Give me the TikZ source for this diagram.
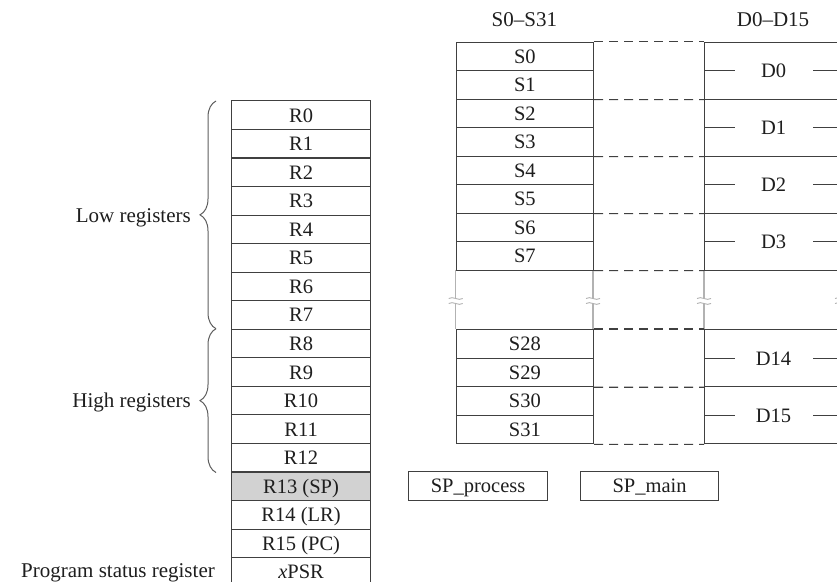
\documentclass[tikz,border=0pt]{standalone}
\usepackage{fontspec}
\setmainfont{Liberation Serif}
\usetikzlibrary{decorations.pathreplacing}
\definecolor{linec}{HTML}{404040}
\definecolor{txtc}{HTML}{1E1E1E}
\definecolor{shade}{HTML}{D2D2D2}
\begin{document}
\begin{tikzpicture}[x=1pt,y=-1pt,
  cell/.style={draw=linec, line width=1.1pt, rectangle, inner sep=0pt, anchor=north west,
    minimum height=28.55pt, text height=14pt, text depth=0pt,
    font=\fontsize{20.5}{24}\selectfont, text=txtc},
  rcell/.style={cell, minimum width=139pt},
  scell/.style={cell, minimum width=137.3pt},
  dcell/.style={cell, minimum width=138pt, minimum height=57pt},
  lab/.style={font=\fontsize{21}{25}\selectfont, text=txtc, inner sep=0pt},
  dsh/.style={draw=linec, line width=1.1pt, dash pattern=on 9pt off 6pt},
  gapl/.style={draw=gray!60, line width=1.3pt},
  tick/.style={draw=linec, line width=1.1pt},
  brc/.style={draw=linec!85, line width=1pt, decorate, decoration={brace, amplitude=16pt}},
]
\useasboundingbox (0,0) rectangle (837,581);
\clip (0,0) rectangle (837,581);

% gap verticals (grey) with break marks
\foreach \x in {455.7,593,704,842}{
  \draw[gapl] (\x,269.5) -- (\x,329);
  \fill[white] (\x-8,298.5) rectangle (\x+8,303.5);
  \draw[gapl, line width=0.9pt] (\x-7,298.5) .. controls (\x-3,295.5) and (\x+3,301.5) .. (\x+7,298.5);
  \draw[gapl, line width=0.9pt] (\x-7,303.5) .. controls (\x-3,300.5) and (\x+3,306.5) .. (\x+7,303.5);
}

% R column
\node[rcell] (R0)  at (231,100.30) {R0};
\node[rcell] (R1)  at (231,128.85) {R1};
\node[rcell] (R2)  at (231,157.40) {R2};
\node[rcell] (R3)  at (231,185.95) {R3};
\node[rcell] (R4)  at (231,214.50) {R4};
\node[rcell] (R5)  at (231,243.05) {R5};
\node[rcell] (R6)  at (231,271.60) {R6};
\node[rcell] (R7)  at (231,300.15) {R7};
\node[rcell] (R8)  at (231,328.70) {R8};
\node[rcell] (R9)  at (231,357.25) {R9};
\node[rcell] (R10) at (231,385.80) {R10};
\node[rcell] (R11) at (231,414.35) {R11};
\node[rcell] (R12) at (231,442.90) {R12};
\node[rcell, fill=shade] (R13) at (231,471.45) {R13 (SP)};
\node[rcell] (R14) at (231,500.00) {R14 (LR)};
\node[rcell] (R15) at (231,528.55) {R15 (PC)};
\node[rcell] (PSR) at (231,557.10) {\textit{x}PSR};

% braces and left labels
\draw[brc] (216,328.7) -- (216,101);
\draw[brc] (216,472.5) -- (216,328.7);
\node[lab, anchor=base east] (low)  at (191,222.7) {Low registers};
\node[lab, anchor=base east] (high) at (191,407.3) {High registers};
\node[lab, anchor=base east] (psrl) at (215,577.5) {Program status register};

% S column
\node[lab, anchor=base] (shead) at (524.4,26) {S0–S31};
\node[scell] (S0) at (455.7,41.5) {S0};
\node[scell] (S1) at (455.7,70.0) {S1};
\node[scell] (S2) at (455.7,98.5) {S2};
\node[scell] (S3) at (455.7,127.0) {S3};
\node[scell] (S4) at (455.7,155.5) {S4};
\node[scell] (S5) at (455.7,184.0) {S5};
\node[scell] (S6) at (455.7,212.5) {S6};
\node[scell] (S7) at (455.7,241.0) {S7};
\node[scell] (S28) at (455.7,329.0) {S28};
\node[scell] (S29) at (455.7,357.55) {S29};
\node[scell] (S30) at (455.7,386.1) {S30};
\node[scell] (S31) at (455.7,414.65) {S31};

% D column
\node[lab, anchor=base] (dhead) at (773,26) {D0–D15};
\node[dcell] (D0)  at (704,41.5)  {D0};
\node[dcell] (D1)  at (704,98.5)  {D1};
\node[dcell] (D2)  at (704,155.5) {D2};
\node[dcell] (D3)  at (704,212.5) {D3};
\node[dcell, minimum height=57.1pt] (D14) at (704,329.0) {D14};
\node[dcell, minimum height=57.1pt] (D15) at (704,386.1) {D15};
\foreach \d in {D0,D1,D2,D3,D14,D15}{
  \draw[tick] (\d.west) -- ++(31,0);
  \draw[tick] (\d.east) -- ++(-30,0);
}

% dashed connectors S -> D
\draw[dsh] (S0.north east) -- (D0.north west);
\draw[dsh] (S1.south east) -- (D0.south west);
\draw[dsh] (S3.south east) -- (D1.south west);
\draw[dsh] (S5.south east) -- (D2.south west);
\draw[dsh] (S7.south east) -- (D3.south west);
\draw[dsh] (S28.north east) -- (D14.north west);
\draw[dsh] (S29.south east) -- (D14.south west);
\draw[dsh] (S31.south east) -- (D15.south west);

% banked stack pointers
\node[cell, minimum width=139pt] (spp) at (408,471.0) {SP\_process};
\node[cell, minimum width=138pt] (spm) at (580,471.0) {SP\_main};
\end{tikzpicture}
\end{document}
